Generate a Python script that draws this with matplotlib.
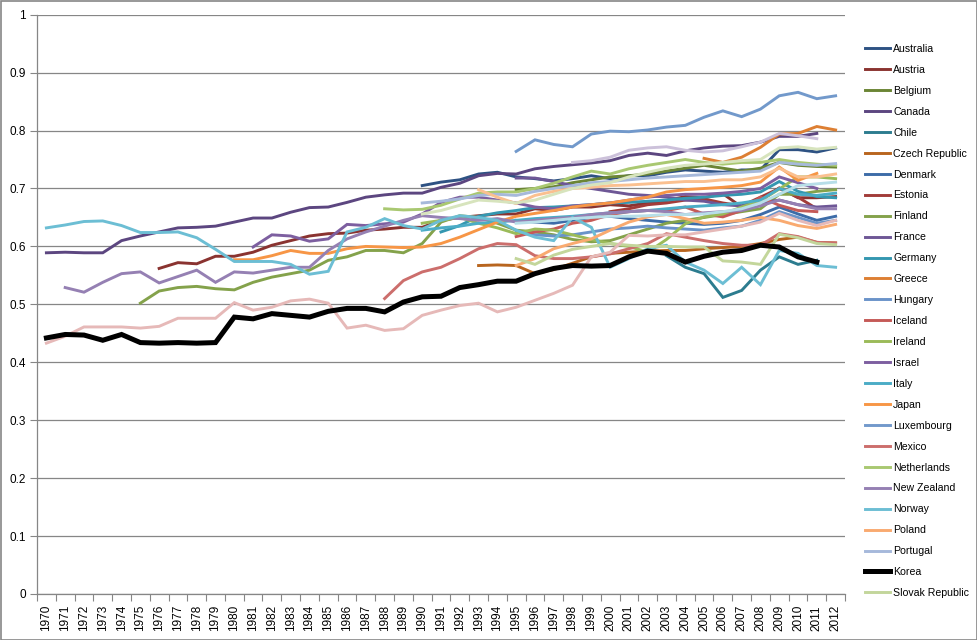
import numpy as np
import matplotlib
matplotlib.use("Agg")
from matplotlib import pyplot as plt
from matplotlib.patches import Rectangle

years = list(range(1970, 2013))

# (first year, values)
australia = (1990, [0.705, 0.711, 0.715, 0.725, 0.728, 0.720, 0.717, 0.713, 0.717, 0.722, 0.717, 0.722,
                    0.722, 0.728, 0.732, 0.730, 0.728, 0.732, 0.732, 0.767, 0.767, 0.763, 0.770])
austria = (1976, [0.562, 0.572, 0.570, 0.583, 0.583, 0.590, 0.602, 0.610, 0.618, 0.622,
                  0.623, 0.628, 0.630, 0.633, 0.633, 0.645, 0.650, 0.653, 0.656, 0.656,
                  0.665, 0.662, 0.668, 0.668, 0.672, 0.670, 0.675, 0.679, 0.686, 0.684,
                  0.691, 0.668, 0.679, 0.701, 0.684, 0.684, 0.686])
belgium = (1995, [0.698, 0.700, 0.703, 0.710, 0.715, 0.720, 0.722, 0.725, 0.730, 0.735, 0.740, 0.735,
                  0.730, 0.735, 0.745, 0.740, 0.738, 0.737])
canada = (1970, [0.589, 0.590, 0.589, 0.589, 0.610, 0.618, 0.625, 0.632, 0.633, 0.635,
                 0.642, 0.649, 0.649, 0.659, 0.667, 0.668, 0.676, 0.685, 0.689, 0.692,
                 0.692, 0.702, 0.709, 0.722, 0.726, 0.725, 0.734, 0.738, 0.741, 0.744,
                 0.748, 0.757, 0.761, 0.757, 0.765, 0.770, 0.773, 0.774, 0.780, 0.790,
                 0.790, 0.795])
chile = (2003, [0.584, 0.564, 0.553, 0.512, 0.524, 0.559, 0.582, 0.569, 0.576])
czech = (1993, [0.567, 0.568, 0.567, 0.553, 0.560, 0.571, 0.582, 0.588, 0.590, 0.592,
                0.593, 0.593, 0.596, 0.598, 0.600, 0.605, 0.612, 0.616, 0.607, 0.606])
denmark = (1995, [0.645, 0.642, 0.640, 0.645, 0.650, 0.652, 0.648, 0.645, 0.642, 0.640, 0.638, 0.640,
                  0.645, 0.655, 0.668, 0.656, 0.645, 0.652])
estonia = (2000, [0.660, 0.665, 0.672, 0.675, 0.680, 0.682, 0.675, 0.670, 0.685, 0.700, 0.685, 0.665])
finland = (1975, [0.502, 0.523, 0.529, 0.531, 0.527, 0.525, 0.538, 0.547, 0.553, 0.559, 0.576,
                  0.582, 0.593, 0.593, 0.589, 0.605, 0.642, 0.653, 0.650, 0.640, 0.628,
                  0.625, 0.620, 0.612, 0.608, 0.610, 0.620, 0.630, 0.640, 0.645, 0.650,
                  0.655, 0.660, 0.665, 0.690, 0.690, 0.695, 0.698])
france = (1995, [0.718, 0.718, 0.712, 0.705, 0.700, 0.695, 0.690, 0.688, 0.685, 0.680, 0.678, 0.672,
                 0.670, 0.675, 0.680, 0.672, 0.668, 0.670])
germany = (1991, [0.625, 0.636, 0.652, 0.658, 0.662, 0.667, 0.668, 0.670, 0.672, 0.675, 0.676,
                  0.678, 0.680, 0.683, 0.685, 0.688, 0.690, 0.694, 0.712, 0.695, 0.686, 0.684])
greece = (2005, [0.752, 0.745, 0.754, 0.771, 0.794, 0.795, 0.807, 0.801])
hungary = (1995, [0.625, 0.620, 0.618, 0.620, 0.625, 0.630, 0.632, 0.635, 0.632, 0.630, 0.628, 0.632,
                  0.635, 0.645, 0.660, 0.650, 0.640, 0.645])
iceland = (1995, [0.617, 0.625, 0.630, 0.640, 0.645, 0.655, 0.660, 0.662, 0.662, 0.668, 0.656, 0.651,
                  0.662, 0.685, 0.671, 0.662, 0.660])
ireland = (1990, [0.640, 0.645, 0.650, 0.640, 0.632, 0.622, 0.630, 0.628, 0.620, 0.612, 0.605, 0.600,
                  0.590, 0.612, 0.639, 0.651, 0.656, 0.668, 0.679, 0.699, 0.720, 0.720, 0.717])
israel = (1981, [0.599, 0.620, 0.618, 0.609, 0.613, 0.638, 0.636, 0.639, 0.642, 0.656,
                 0.676, 0.685, 0.685, 0.680, 0.675, 0.668, 0.665, 0.670, 0.672, 0.675,
                 0.680, 0.685, 0.688, 0.690, 0.690, 0.692, 0.695, 0.700, 0.720, 0.710, 0.700])
italy = (1990, [0.628, 0.632, 0.635, 0.640, 0.642, 0.645, 0.648, 0.650, 0.652, 0.655, 0.658, 0.660,
                0.662, 0.665, 0.668, 0.670, 0.672, 0.675, 0.680, 0.700, 0.690, 0.688, 0.692])
japan = (1980, [0.577, 0.577, 0.584, 0.593, 0.588, 0.588, 0.596, 0.600, 0.599, 0.598,
                0.599, 0.605, 0.616, 0.629, 0.642, 0.652, 0.657, 0.662, 0.668, 0.672,
                0.675, 0.680, 0.685, 0.694, 0.698, 0.700, 0.702, 0.705, 0.711, 0.737,
                0.714, 0.726])
luxembourg = (1995, [0.764, 0.784, 0.776, 0.772, 0.794, 0.799, 0.798, 0.801, 0.806, 0.809, 0.823,
                     0.834, 0.824, 0.837, 0.860, 0.866, 0.855, 0.860])
mexico = (1988, [0.510, 0.541, 0.556, 0.564, 0.579, 0.596, 0.605, 0.603, 0.584, 0.579, 0.579, 0.582,
                 0.587, 0.596, 0.605, 0.622, 0.616, 0.610, 0.605, 0.602, 0.602, 0.622, 0.617, 0.607,
                 0.606])
netherlands = (1988, [0.665, 0.663, 0.664, 0.671, 0.682, 0.692, 0.694, 0.694, 0.700, 0.709, 0.720,
                      0.730, 0.725, 0.734, 0.740, 0.745, 0.750, 0.745, 0.742, 0.745, 0.745, 0.750,
                      0.745, 0.742, 0.740])
new_zealand = (1971, [0.529, 0.521, 0.538, 0.553, 0.556, 0.537, 0.548, 0.559, 0.538, 0.556,
                      0.554, 0.559, 0.564, 0.564, 0.593, 0.613, 0.625, 0.635, 0.645, 0.653,
                      0.650, 0.648, 0.645, 0.648, 0.642, 0.645, 0.648, 0.650, 0.655, 0.658,
                      0.660, 0.662, 0.660, 0.655, 0.658, 0.660, 0.662, 0.670, 0.680, 0.672,
                      0.665, 0.665])
norway = (1970, [0.632, 0.637, 0.643, 0.644, 0.636, 0.624, 0.624, 0.625, 0.615, 0.595,
                 0.574, 0.574, 0.574, 0.569, 0.552, 0.557, 0.625, 0.633, 0.648, 0.636,
                 0.630, 0.645, 0.653, 0.650, 0.645, 0.628, 0.616, 0.610, 0.650, 0.633,
                 0.564, 0.579, 0.596, 0.602, 0.573, 0.559, 0.536, 0.564, 0.534, 0.593,
                 0.588, 0.567, 0.564])
poland = (1995, [0.567, 0.579, 0.596, 0.605, 0.613, 0.628, 0.642, 0.651, 0.655, 0.648, 0.640, 0.642,
                 0.645, 0.650, 0.645, 0.636, 0.631, 0.638])
portugal = (1990, [0.675, 0.678, 0.682, 0.688, 0.690, 0.688, 0.695, 0.700, 0.705, 0.710, 0.712, 0.715,
                   0.718, 0.720, 0.722, 0.724, 0.726, 0.728, 0.730, 0.745, 0.742, 0.740, 0.743])
korea = (1970, [0.442, 0.448, 0.447, 0.438, 0.448, 0.434, 0.433, 0.434, 0.433, 0.434,
                0.478, 0.475, 0.484, 0.481, 0.478, 0.488, 0.493, 0.493, 0.487, 0.504,
                0.513, 0.514, 0.529, 0.534, 0.540, 0.540, 0.553, 0.562, 0.567, 0.566,
                0.567, 0.582, 0.592, 0.588, 0.573, 0.583, 0.590, 0.593, 0.602, 0.599,
                0.582, 0.573])
slovak = (1995, [0.579, 0.569, 0.585, 0.595, 0.600, 0.605, 0.602, 0.600, 0.600, 0.599, 0.599, 0.575,
                 0.573, 0.569, 0.621, 0.615, 0.605, 0.603])
# series that the legend cuts off
slovenia = (1998, [0.745, 0.748, 0.754, 0.766, 0.770, 0.772, 0.766, 0.763, 0.765, 0.772, 0.780, 0.795,
                   0.791, 0.786])
spain = (1995, [0.640, 0.642, 0.645, 0.648, 0.650, 0.652, 0.652, 0.653, 0.655, 0.655, 0.656, 0.660,
                0.665, 0.675, 0.690, 0.705, 0.708, 0.711])
sweden = (1993, [0.698, 0.685, 0.674, 0.688, 0.695, 0.700, 0.702, 0.705, 0.706, 0.708, 0.710, 0.712,
                 0.712, 0.715, 0.715, 0.720, 0.735, 0.720, 0.720, 0.725])
switzerland = (1970, [0.433, 0.445, 0.461, 0.461, 0.461, 0.459, 0.462, 0.476, 0.476, 0.476,
                      0.503, 0.490, 0.495, 0.506, 0.509, 0.502, 0.459, 0.464, 0.455, 0.458,
                      0.481, 0.490, 0.498, 0.502, 0.487, 0.495, 0.507, 0.519, 0.533, 0.582,
                      0.590, 0.619, 0.618, 0.620, 0.620, 0.625, 0.630, 0.635, 0.642, 0.657,
                      0.645, 0.636, 0.645])
united_kingdom = (1990, [0.656, 0.662, 0.671, 0.680, 0.678, 0.675, 0.680, 0.690, 0.700, 0.706, 0.710,
                         0.720, 0.728, 0.735, 0.740, 0.742, 0.745, 0.748, 0.750, 0.770, 0.772, 0.768,
                         0.771])

series = [
    ("Australia", australia, "#2E5283"),
    ("Austria", austria, "#8A3330"),
    ("Belgium", belgium, "#6B8535"),
    ("Canada", canada, "#5C4680"),
    ("Chile", chile, "#2C7C8F"),
    ("Czech Republic", czech, "#B8651E"),
    ("Denmark", denmark, "#3D6CA8"),
    ("Estonia", estonia, "#A23C39"),
    ("Finland", finland, "#84A24B"),
    ("France", france, "#6E5796"),
    ("Germany", germany, "#3497B0"),
    ("Greece", greece, "#DD7F33"),
    ("Hungary", hungary, "#6A93C9"),
    ("Iceland", iceland, "#C55A57"),
    ("Ireland", ireland, "#9BBB59"),
    ("Israel", israel, "#7D5FA0"),
    ("Italy", italy, "#4BACC6"),
    ("Japan", japan, "#F79646"),
    ("Luxembourg", luxembourg, "#7299CB"),
    ("Mexico", mexico, "#CC6E6C"),
    ("Netherlands", netherlands, "#A9C871"),
    ("New Zealand", new_zealand, "#9580B3"),
    ("Norway", norway, "#6CBED4"),
    ("Poland", poland, "#F9AA70"),
    ("Portugal", portugal, "#A6B9DB"),
    ("Korea", korea, "#000000"),
    ("Slovak Republic", slovak, "#C3D69B"),
    ("Slovenia", slovenia, "#CCC1DA"),
    ("Spain", spain, "#B7DEE8"),
    ("Sweden", sweden, "#FAC090"),
    ("Switzerland", switzerland, "#E6B9B8"),
    ("United Kingdom", united_kingdom, "#D7E4BD"),
]
n_legend = 27


def full_row(start, values):
    row = np.full(len(years), np.nan)
    i = years.index(start)
    row[i:i + len(values)] = values
    return row


plt.rcParams['font.family'] = ['Liberation Sans', 'DejaVu Sans']
grey = "#868686"

fig = plt.figure(figsize=(9.78, 6.4), dpi=100)
ax = fig.add_axes([37 / 978, 46 / 640, 808 / 978, 579.3 / 640])

x = np.arange(len(years))
handles = []
for name, (start, values), color in series:
    lw = 3.6 if name == "Korea" else 2.1
    line, = ax.plot(x, full_row(start, values), color=color, lw=lw, label=name,
                    solid_joinstyle="miter", zorder=3 if name == "Korea" else 2)
    handles.append(line)

ax.set_xlim(-0.5, len(years) - 0.5)
ax.set_ylim(0, 1)
ax.set_yticks(np.arange(0, 1.01, 0.1))
ax.set_yticklabels(["0", "0.1", "0.2", "0.3", "0.4", "0.5", "0.6", "0.7", "0.8", "0.9", "1"])
ax.set_xticks(x)
ax.set_xticklabels([str(y) for y in years], rotation=90)
ax.set_xticks(np.arange(-0.5, len(years), 1), minor=True)
ax.tick_params(axis="x", which="major", length=0, labelsize=8.5, pad=8)
ax.tick_params(axis="x", which="minor", length=5, color=grey, width=0.8)
ax.tick_params(axis="y", length=5, color=grey, width=0.8, labelsize=8.5, pad=3)
ax.grid(axis="y", color=grey, lw=0.9)
ax.set_axisbelow(True)
for side in ["top", "right"]:
    ax.spines[side].set_visible(False)
for side in ["left", "bottom"]:
    ax.spines[side].set_color(grey)
    ax.spines[side].set_linewidth(0.9)

fig.legend(handles=handles[:n_legend], loc="upper left", bbox_to_anchor=(865 / 978, 1 - 44 / 640),
           frameon=False, fontsize=7.6, labelspacing=1.035, handlelength=2.4, handletextpad=0.28,
           borderaxespad=0, borderpad=0)

fig.patches.append(Rectangle((0.5 / 978, 0.5 / 640), 976.5 / 978, 638.5 / 640, transform=fig.transFigure,
                             fill=False, edgecolor=grey, lw=1.2))

plt.savefig("out.png", dpi=100)
